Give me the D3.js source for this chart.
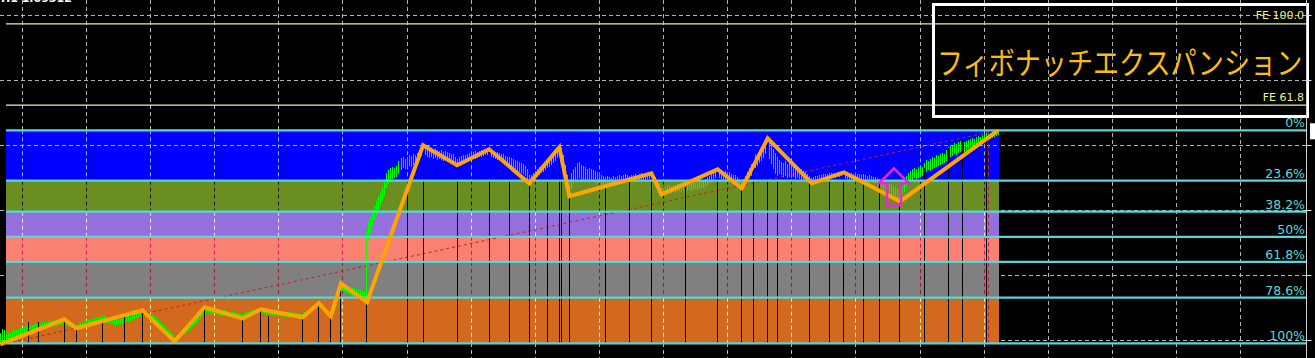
<!DOCTYPE html>
<html><head><meta charset="utf-8">
<script src="https://cdn.jsdelivr.net/npm/d3@7"></script>
<style>html,body{margin:0;padding:0;background:#000;overflow:hidden}</style>
</head><body><svg id="c" width="1315" height="358"></svg>
<script>
// ---- DATA (price units: fib low = 0, fib high = 213) ----
const barLows = [
1,2,3,0,3,4,5,6,6,7,8,8,9,10,10,11,12,12,13,14,14,15,15,16,16,17,17,18,18,19,19,20,20,
19,18,17,16,16,15,
15,16,17,17,18,19,19,20,20,21,22,22,22,22,21,21,20,20,19,19,19,20,20,21,22,22,23,24,25,26,27,28,29,
30,28,26,25,24,22,20,18,16,14,13,11,9,7,5,2,
3,5,6,8,10,11,13,15,17,19,21,23,26,28,31,
31,31,30,30,31,30,29,29,28,29,28,27,27,28,27,26,26,25,25,
26,27,27,28,29,30,30,31,31,
30,30,29,30,29,29,28,29,28,28,27,28,27,27,28,27,27,26,27,26,26,
27,28,30,31,33,34,36,37,
36,34,32,30,29,27,
29,33,38,44,50,
53,52,51,50,49,48,48,47,47,46,46,45,41,
104,110,118,124,128,133,138,143,148,156,160,163,165,166,167,170,174,176,175,176,178,177,179,180,181,184,188,190,
189,187,186,187,185,186,184,185,184,183,184,183,182,181,182,180,178,
180,181,181,182,183,183,184,185,185,186,187,187,188,189,189,190,
187,186,185,184,184,182,181,180,179,178,177,176,175,173,172,171,170,168,165,160,
162,164,166,167,169,171,172,174,176,177,179,181,183,186,189,
184,174,164,155,147,
155,160,163,165,166,164,163,164,162,161,163,162,161,160,161,159,158,158,159,160,159,160,161,160,161,162,161,162,163,162,163,162,163,164,163,164,163,164,165,165,166,
163,160,157,153,149,
149,150,151,150,151,152,151,152,153,152,153,152,153,154,153,154,155,154,155,156,156,157,159,161,163,164,166,167,
166,165,163,164,162,163,161,160,161,159,158,155,
158,160,163,166,168,172,176,178,181,183,186,190,195,
185,180,175,170,168,170,169,167,168,166,167,166,167,165,166,165,164,163,164,162,161,160,
161,162,162,163,163,164,164,165,165,166,166,166,167,167,168,167,
165,165,164,165,164,164,163,164,163,162,163,162,161,162,161,160,158,157,156,154,153,152,151,150,149,148,146,142,
148,152,157,161,163,164,166,165,166,167,168,170,172,174,173,175,176,177,178,179,180,181,183,186,187,188,190,189,191,192,193,192,193,195,196,195,197,198,199,200,201,202,203,204,205,206,207,208,209
];
const barHighs = [
10,14,13,9,10,11,12,13,13,14,15,15,16,17,17,18,18,19,19,20,20,21,21,21,22,22,22,23,22,23,23,22,24,
23,22,21,20,19,18,
19,20,21,22,22,23,24,24,25,25,26,26,27,27,26,25,25,24,24,23,24,24,25,26,27,27,28,29,30,31,31,32,33,
32,31,30,29,28,27,25,23,21,19,18,16,14,12,9,6,
7,9,11,13,15,16,18,20,23,25,27,29,31,33,36,
35,35,34,35,35,34,34,33,33,33,32,32,31,32,31,30,30,29,29,
30,31,31,32,33,33,34,33,34,
33,33,33,33,33,32,32,33,32,31,31,32,31,31,31,30,31,30,30,29,29,
31,32,34,35,37,38,39,40,
39,38,36,34,32,31,
34,40,47,54,60,
59,58,57,56,56,55,55,54,54,53,52,51,113,
121,126,132,138,142,147,151,156,161,170,173,175,176,175,177,182,185,186,184,186,188,187,189,188,190,193,196,198,
196,195,194,195,193,194,193,192,193,191,192,191,190,189,189,186,184,
186,187,188,188,189,190,190,191,192,191,192,193,193,193,194,194,
193,192,191,191,190,189,189,187,186,186,185,184,183,182,181,180,179,177,174,168,
168,170,172,174,176,177,179,181,182,184,186,188,190,193,196,
195,188,178,168,158,
170,174,176,180,181,178,177,176,174,175,174,173,172,171,170,168,167,166,167,166,165,167,166,167,168,167,168,169,168,167,168,168,169,168,169,170,169,169,170,169,170,
169,166,163,160,156,
155,156,157,158,157,158,157,159,158,158,159,160,159,160,159,161,160,161,162,161,163,164,166,167,169,171,172,174,
173,172,171,172,170,171,169,168,168,166,164,161,
164,167,171,175,179,184,189,188,192,195,198,201,205,
201,198,194,190,186,183,181,180,182,179,180,178,179,177,176,175,174,172,171,169,167,165,
166,167,167,168,168,169,169,169,170,170,170,170,171,170,171,171,
170,171,170,170,169,170,169,169,168,169,168,167,168,167,166,166,165,164,163,162,161,160,159,158,157,156,155,152,
158,163,167,170,172,174,175,174,176,177,176,180,183,182,184,186,185,188,187,189,190,189,193,196,198,197,200,199,201,202,203,201,202,203,204,205,204,206,207,206,208,209,210,209,210,211,212,212,213
];
const zigzagBars   = [0, 32, 38, 71, 87, 102, 121, 130, 151, 159, 165, 170, 183, 211, 228, 244, 264, 279, 284, 325, 330, 358, 370, 383, 405, 421, 449, 498];
const zigzagPrices = [-1, 24, 15, 33, 2, 36, 25, 34, 26, 40, 27, 60, 41, 198, 178, 194, 160, 196, 147, 170, 149, 174, 155, 205, 160, 171, 142, 213];
const markerBars = [14,19,32,38,51,62,71,102,121,130,134,151,159,165,170,183,203,211,228,244,254,264,273,279,280,284,302,314,325,342,358,370,376,383,388,404,414,421,431,439,449,461,473,480,492];
const markerTops = [21,21,24,15,22,30,33,37,25,34,27,26,40,27,60,41,161,198,178,194,178,160,161,196,193,147,158,165,170,156,174,155,191,205,163,161,163,171,161,160,142,175,195,203,203];

const fibLevels = [0, 23.6, 38.2, 50, 61.8, 78.6, 100];
const fibLabels = ["0%", "23.6%", "38.2%", "50%", "61.8%", "78.6%", "100%"];
const fibHigh = 213, fibLow = 0, fibStartBar = 3, fibEndBar = 498;
const bandColors = ["#0000ff", "#6b8e23", "#9370db", "#fa8072", "#808080", "#d2691e"];
const bandGridColors = ["#a8a8ff", "#1a1a1a", "#eee0ff", "#c8205e", "#a81830", "#fbe995"];

const feLevels = [100, 61.8];
const feLabels = ["FE 100.0", "FE 61.8"];
const feBase = 106.5, feRange = 213;

const priceGrid = [3, 68, 133, 198, 263, 328];
const timeGridStart = 11, timeGridStep = 32, lastGridBar = 619;
const arrowBar = 446, arrowPrice = 175;
const separatorBar = 493;
const titleText = "フィボナッチエクスパンション";
const infoText = "H1  1.09512";

// ---- SCALES ----
const W = 1315, H = 358, plotRight = 1306.5;
const x = d3.scaleLinear().domain([0, 619]).range([0.2, 0.2 + 2.004 * 619]);
const y = d3.scaleLinear().domain([fibLow, fibHigh]).range([343.3, 130.3]);
const px = i => Math.round(x(i) - 0.5) + 0.5;
const fibPrice = l => fibHigh - l / 100 * (fibHigh - fibLow);

const svg = d3.select("#c");
svg.append("rect").attr("width", W).attr("height", H).attr("fill", "#000");

const timeGrid = d3.range(timeGridStart, lastGridBar + 1, timeGridStep);

// base grid
const g0 = svg.append("g").attr("stroke", "#b4b4b4").attr("stroke-width", 1).attr("stroke-dasharray", "4,3");
g0.selectAll("line.h").data(priceGrid).join("line").attr("class", "h")
  .attr("x1", 0).attr("x2", plotRight).attr("y1", d => Math.round(y(d)) + 0.5).attr("y2", d => Math.round(y(d)) + 0.5);
g0.selectAll("line.v").data(timeGrid).join("line").attr("class", "v")
  .attr("x1", d => px(d)).attr("x2", d => px(d)).attr("y1", 0).attr("y2", H);

// bands
const bandL = px(fibStartBar) - 0.5, bandR = px(fibEndBar) + 0.5;
const bands = d3.range(fibLevels.length - 1).map(j => ({ j, top: y(fibPrice(fibLevels[j])), bot: y(fibPrice(fibLevels[j + 1])) }));
svg.append("g").selectAll("rect").data(bands).join("rect")
  .attr("x", bandL).attr("width", bandR - bandL)
  .attr("y", d => d.top).attr("height", d => d.bot - d.top)
  .attr("fill", d => bandColors[d.j]);

// grid as seen through the bands
const g1 = svg.append("g").attr("stroke-width", 1).attr("stroke-dasharray", "4,3");
bands.forEach(b => {
  g1.append("g").attr("stroke", bandGridColors[b.j]).selectAll("line")
    .data(timeGrid.filter(t => px(t) > bandL && px(t) < bandR)).join("line")
    .attr("x1", d => px(d)).attr("x2", d => px(d)).attr("y1", b.top).attr("y2", b.bot);
  g1.append("g").attr("stroke", bandGridColors[b.j]).selectAll("line")
    .data(priceGrid.filter(p => y(p) > b.top + 2 && y(p) < b.bot - 4 && b.j === 0)).join("line")
    .attr("x1", bandL).attr("x2", bandR).attr("y1", d => Math.round(y(d)) + 0.5).attr("y2", d => Math.round(y(d)) + 0.5);
});

// fib trend line (diagonal)
svg.append("line")
  .attr("x1", x(fibStartBar)).attr("y1", y(fibLow)).attr("x2", x(fibEndBar)).attr("y2", y(fibHigh))
  .attr("stroke", "#c82020").attr("stroke-width", 1).attr("stroke-dasharray", "3,3");

// price bars
const n = Math.min(barLows.length, barHighs.length);
svg.append("g").attr("stroke", "#00ff00").attr("stroke-width", 1)
  .selectAll("line").data(d3.range(n)).join("line")
  .attr("x1", i => px(i)).attr("x2", i => px(i))
  .attr("y1", i => Math.round(y(barHighs[i]))).attr("y2", i => Math.round(y(barLows[i])) + 1);

// black marker lines
svg.append("g").attr("stroke", "#000").attr("stroke-width", 1)
  .selectAll("line").data(markerBars).join("line")
  .attr("x1", (d) => px(d)).attr("x2", d => px(d))
  .attr("y1", (d, k) => Math.round(y(markerTops[k]))).attr("y2", y(fibLow));

// separator
svg.append("line").attr("x1", px(separatorBar)).attr("x2", px(separatorBar))
  .attr("y1", y(fibHigh)).attr("y2", y(fibLow))
  .attr("stroke", "#b81c3c").attr("stroke-width", 1).attr("stroke-dasharray", "4,3");

// fib levels
const fg = svg.append("g");
fg.selectAll("line").data(fibLevels).join("line")
  .attr("x1", bandL).attr("x2", plotRight + 0.5)
  .attr("y1", d => y(fibPrice(d))).attr("y2", d => y(fibPrice(d)))
  .attr("stroke", "#58d6d6").attr("stroke-width", 2.2);
fg.selectAll("text").data(fibLevels).join("text")
  .attr("x", 1305).attr("y", d => y(fibPrice(d)) - 3)
  .attr("text-anchor", "end").attr("fill", "#5fd8d8")
  .attr("font-family", "DejaVu Sans, sans-serif").attr("font-size", 12.5)
  .text((d, k) => fibLabels[k]);

// zigzag
const zz = zigzagBars.map((b, k) => [x(b), y(zigzagPrices[k])]);
svg.append("path").attr("d", d3.line()(zz))
  .attr("fill", "none").attr("stroke", "#ffa500").attr("stroke-width", 4)
  .attr("stroke-linejoin", "miter").attr("stroke-miterlimit", 6);

// arrow
const ax = x(arrowBar), ay = y(arrowPrice);
svg.append("path")
  .attr("d", `M${ax},${ay} L${ax + 15},${ay + 15} L${ax + 7},${ay + 15} L${ax + 7},${ay + 37} L${ax - 7},${ay + 37} L${ax - 7},${ay + 15} L${ax - 15},${ay + 15} Z`)
  .attr("fill", "none").attr("stroke", "#e526dc").attr("stroke-width", 2.5);

// FE lines
const feg = svg.append("g");
feg.selectAll("line").data(feLevels).join("line")
  .attr("x1", bandL).attr("x2", plotRight)
  .attr("y1", d => y(feBase + d / 100 * feRange)).attr("y2", d => y(feBase + d / 100 * feRange))
  .attr("stroke", "#eeeea8").attr("stroke-width", 1.3);
feg.selectAll("text").data(feLevels).join("text")
  .attr("x", 1304).attr("y", d => y(feBase + d / 100 * feRange) - 4.5)
  .attr("text-anchor", "end").attr("fill", "#f0f08c")
  .attr("font-family", "DejaVu Sans, sans-serif").attr("font-size", 11)
  .text((d, k) => feLabels[k]);

// title box
svg.append("rect").attr("x", 933.5).attr("y", 4.5).attr("width", 374).attr("height", 112)
  .attr("fill", "none").attr("stroke", "#fff").attr("stroke-width", 3);
svg.append("text").attr("transform", "translate(937,61) scale(1,1.18)").attr("dominant-baseline", "central")
  .attr("fill", "#fbbd12").attr("font-family", "Noto Sans CJK JP, sans-serif").attr("font-size", 26.1)
  .text(titleText);

// right border and axis ticks
svg.append("line").attr("x1", plotRight).attr("x2", plotRight).attr("y1", 0).attr("y2", H)
  .attr("stroke", "#d0d0d0").attr("stroke-width", 1);
svg.append("g").attr("stroke", "#e0e0e0").selectAll("line").data(priceGrid).join("line")
  .attr("x1", plotRight).attr("x2", plotRight + 5)
  .attr("y1", d => Math.round(y(d)) + 0.5).attr("y2", d => Math.round(y(d)) + 0.5);
svg.append("rect").attr("x", 1310).attr("y", y(fibHigh) - 7).attr("width", 6).attr("height", 16).attr("fill", "#fff");

// clipped info text top-left
svg.append("text").attr("x", 1).attr("y", 2).attr("fill", "#fff")
  .attr("font-family", "DejaVu Sans, sans-serif").attr("font-size", 11).attr("font-weight", "bold").text(infoText);
</script></body></html>
